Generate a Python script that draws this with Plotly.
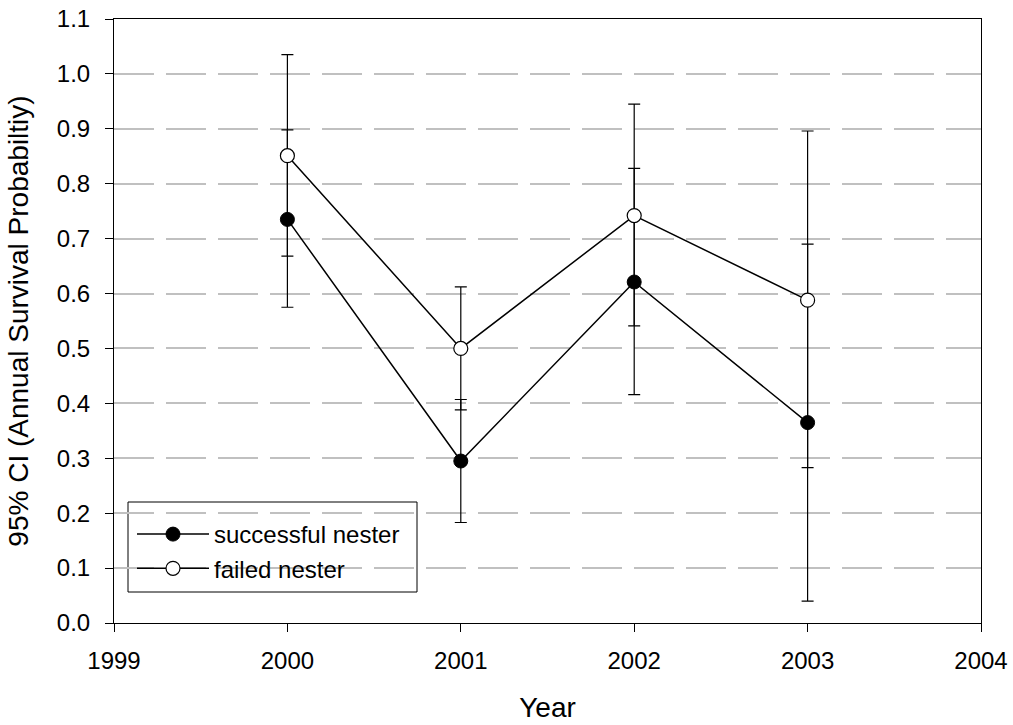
import plotly.graph_objects as go

years = [2000, 2001, 2002, 2003]

succ_vals = [0.735, 0.295, 0.621, 0.365]
succ_upper = [0.898, 0.407, 0.828, 0.690]
succ_lower = [0.575, 0.183, 0.416, 0.040]

fail_vals = [0.851, 0.500, 0.742, 0.588]
fail_upper = [1.035, 0.612, 0.945, 0.896]
fail_lower = [0.668, 0.388, 0.541, 0.283]

y_ticks = [round(i * 0.1, 1) for i in range(12)]
x_ticks = [1999, 2000, 2001, 2002, 2003, 2004]

FONT = "Liberation Sans, Arial, sans-serif"

def err(vals, up, lo):
    return dict(
        type="data", symmetric=False,
        array=[u - v for u, v in zip(up, vals)],
        arrayminus=[v - l for v, l in zip(vals, lo)],
        color="black", thickness=1.2, width=6,
    )

fig = go.Figure()
fig.add_trace(go.Scatter(
    x=years, y=succ_vals, name="successful nester", mode="lines+markers",
    line=dict(color="black", width=1.5),
    marker=dict(symbol="circle", size=14, color="black", line=dict(color="black", width=1)),
    error_y=err(succ_vals, succ_upper, succ_lower),
))
fig.add_trace(go.Scatter(
    x=years, y=fail_vals, name="failed nester", mode="lines+markers",
    line=dict(color="black", width=1.5),
    marker=dict(symbol="circle", size=14, color="white", line=dict(color="black", width=1.2)),
    error_y=err(fail_vals, fail_upper, fail_lower),
))

# legend box
fig.add_shape(type="rect", xref="paper", yref="paper",
              x0=(128 - 114) / 867, x1=(417 - 114) / 867,
              y0=(623 - 592) / 604, y1=(623 - 502) / 604,
              line=dict(color="black", width=1), fillcolor="white", layer="between")

fig.update_layout(
    width=1013, height=725,
    margin=dict(l=114, r=32, t=19, b=102),
    paper_bgcolor="white", plot_bgcolor="white",
    font=dict(family=FONT, size=24, color="black"),
    showlegend=True,
    legend=dict(x=(132 - 114) / 867, y=(623 - 512) / 604, xanchor="left", yanchor="top",
                bgcolor="rgba(0,0,0,0)", borderwidth=0,
                font=dict(family=FONT, size=24, color="black"),
                tracegroupgap=0, itemwidth=72),
    xaxis=dict(
        range=[1999, 2004], tickvals=x_ticks, ticktext=[str(v) for v in x_ticks],
        showline=True, linecolor="black", linewidth=1, mirror=True,
        ticks="outside", ticklen=8, tickcolor="black", tickwidth=1,
        showgrid=False, zeroline=False, automargin=False,
        ticklabelstandoff=8,
        title=dict(text="Year", font=dict(size=28), standoff=24),
        tickfont=dict(size=24),
    ),
    yaxis=dict(
        range=[0, 1.1], tickvals=y_ticks, ticktext=[f"{v:.1f}" for v in y_ticks],
        showline=True, linecolor="black", linewidth=1, mirror=True,
        ticks="outside", ticklen=8, tickcolor="black", tickwidth=1,
        showgrid=True, gridcolor="#c0c0c0", gridwidth=1.5, griddash="40px,12px",
        zeroline=False, automargin=False,
        ticklabelstandoff=10,
        title=dict(text="95% CI (Annual Survival Probabiltiy)", font=dict(size=28), standoff=20),
        tickfont=dict(size=24),
    ),
)

fig.write_html("out.html", config={"displayModeBar": False},
               post_script="document.body.style.margin='0';document.body.style.overflow='hidden';")
